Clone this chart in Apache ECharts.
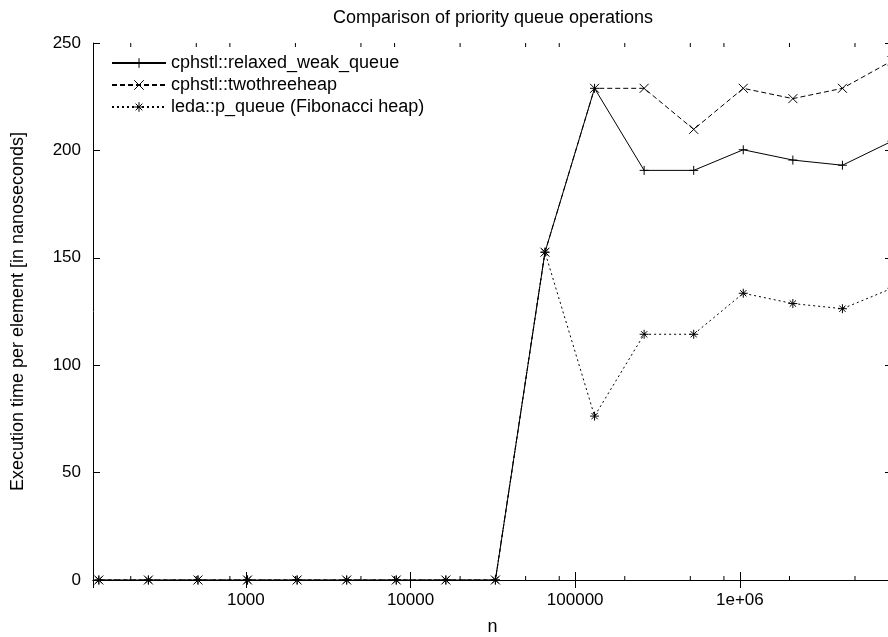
<!DOCTYPE html>
<html>
<head>
<meta charset="utf-8">
<script src="https://cdn.jsdelivr.net/npm/echarts@6/dist/echarts.min.js"></script>
<style>
  html, body { margin: 0; padding: 0; background: #fff; }
  #chart { width: 888px; height: 637px; }
</style>
</head>
<body>
<div id="chart"></div>
<script>
// problem sizes n (powers of two)
const sizes = [128, 256, 512, 1024, 2048, 4096, 8192, 16384, 32768, 65536,
  131072, 262144, 524288, 1048576, 2097152, 4194304, 8388608];

// execution time per element [ns]
const relaxedWeakQueue = [0, 0, 0, 0, 0, 0, 0, 0, 0, 152.6, 228.9, 190.7, 190.7, 200.3, 195.5, 193.1, 204.3];
const twoThreeHeap = [0, 0, 0, 0, 0, 0, 0, 0, 0, 152.6, 228.9, 228.9, 209.8, 228.9, 224.1, 228.9, 241.7];
const ledaPQueue = [0, 0, 0, 0, 0, 0, 0, 0, 0, 152.6, 76.3, 114.4, 114.4, 133.5, 128.7, 126.3, 135.8];

const seriesNames = ['cphstl::relaxed_weak_queue', 'cphstl::twothreeheap', 'leda::p_queue (Fibonacci heap)'];

// minor ticks of the log axis (gnuplot style)
const minorTicks = [200, 500, 800, 2000, 5000, 8000, 20000, 50000, 80000,
  200000, 500000, 800000, 2000000, 5000000, 8000000];

const FONT = 'Liberation Sans, Arial, Helvetica, sans-serif';

const plusSym = 'path://M5 0L5 10M0 5L10 5';
const crossSym = 'path://M0 0L10 10M10 0L0 10';
const starSym = 'path://M5 0L5 10M0 5L10 5M1.5 1.5L8.5 8.5M8.5 1.5L1.5 8.5';

function pairs(vals) {
  return sizes.map((n, i) => [n, vals[i]]);
}

function isDecade(v) {
  const l = Math.log10(v);
  return Math.abs(l - Math.round(l)) < 1e-6;
}

const chart = echarts.init(document.getElementById('chart'), null, { renderer: 'canvas' });

const xBase = {
  type: 'log',
  logBase: 10,
  min: 118,
  max: 8388608,
  splitLine: { show: false },
  axisLine: { show: true, lineStyle: { color: '#000', width: 1 } },
  axisTick: { show: true, inside: true, length: 8, lineStyle: { color: '#000' } },
  minorTick: { show: false }
};

const yBase = {
  type: 'value',
  min: 0,
  max: 250,
  interval: 50,
  splitLine: { show: false },
  axisLine: { show: true, lineStyle: { color: '#000', width: 1 } },
  axisTick: { show: true, inside: true, length: 7, lineStyle: { color: '#000' } }
};

function lineSeries(name, vals, sym, dash) {
  return {
    name: name,
    type: 'line',
    data: pairs(vals),
    symbol: sym,
    symbolSize: 9,
    showAllSymbol: true,
    lineStyle: { color: '#000', width: 1, type: dash },
    itemStyle: { color: '#000', borderColor: '#000', borderWidth: 1 },
    emphasis: { disabled: true },
    animation: false
  };
}

const option = {
  backgroundColor: '#fff',
  animation: false,
  title: {
    text: 'Comparison of priority queue operations',
    left: 493,
    top: 9,
    textAlign: 'center',
    padding: 0,
    textStyle: { fontFamily: FONT, fontSize: 18, fontWeight: 'normal', color: '#000' }
  },
  grid: { left: 93, right: -4, top: 43, bottom: 57, containLabel: false, outerBoundsMode: 'none' },
  legend: {
    data: seriesNames,
    orient: 'vertical',
    left: 111,
    top: 54,
    itemWidth: 54,
    itemHeight: 12,
    itemGap: 4,
    selectedMode: false,
    padding: 0,
    itemStyle: { borderColor: '#000', borderWidth: 1 },
    textStyle: { fontFamily: FONT, fontSize: 18, color: '#000' }
  },
  xAxis: [
    Object.assign({}, xBase, {
      position: 'bottom',
      name: 'n',
      nameLocation: 'middle',
      nameGap: 38,
      nameTextStyle: { fontFamily: FONT, fontSize: 18, color: '#000' },
      axisLabel: {
        fontFamily: FONT, fontSize: 17, color: '#000', margin: 12,
        showMinLabel: false, showMaxLabel: false,
        formatter: function (v) {
          if (!isDecade(v)) return '';
          const r = Math.round(v);
          return r >= 1e6 ? '1e+0' + Math.round(Math.log10(v)) : String(r);
        }
      }
    }),
    Object.assign({}, xBase, {
      position: 'top',
      axisLabel: { show: false }
    })
  ],
  yAxis: [
    Object.assign({}, yBase, {
      position: 'left',
      name: 'Execution time per element [in nanoseconds]',
      nameLocation: 'middle',
      nameRotate: 90,
      nameGap: 66,
      nameTextStyle: { fontFamily: FONT, fontSize: 18, color: '#000' },
      axisLabel: { fontFamily: FONT, fontSize: 17, color: '#000', margin: 12 }
    }),
    Object.assign({}, yBase, {
      position: 'right',
      axisLabel: { show: false }
    })
  ],
  series: [
    lineSeries(seriesNames[0], relaxedWeakQueue, plusSym, 'solid'),
    lineSeries(seriesNames[1], twoThreeHeap, crossSym, [5, 3]),
    lineSeries(seriesNames[2], ledaPQueue, starSym, [2, 3]),
    {
      type: 'custom',
      silent: true,
      data: minorTicks.map(v => [v, 0]),
      encode: { x: 0, y: 1 },
      renderItem: function (params, api) {
        const b = api.coord([api.value(0), 0]);
        const t = api.coord([api.value(0), 250]);
        return {
          type: 'group',
          children: [
            { type: 'line', shape: { x1: b[0], y1: b[1], x2: b[0], y2: b[1] - 4 }, style: { stroke: '#000', lineWidth: 1 } },
            { type: 'line', shape: { x1: t[0], y1: t[1], x2: t[0], y2: t[1] + 4 }, style: { stroke: '#000', lineWidth: 1 } }
          ]
        };
      },
      animation: false
    }
  ]
};

chart.setOption(option);
</script>
</body>
</html>
